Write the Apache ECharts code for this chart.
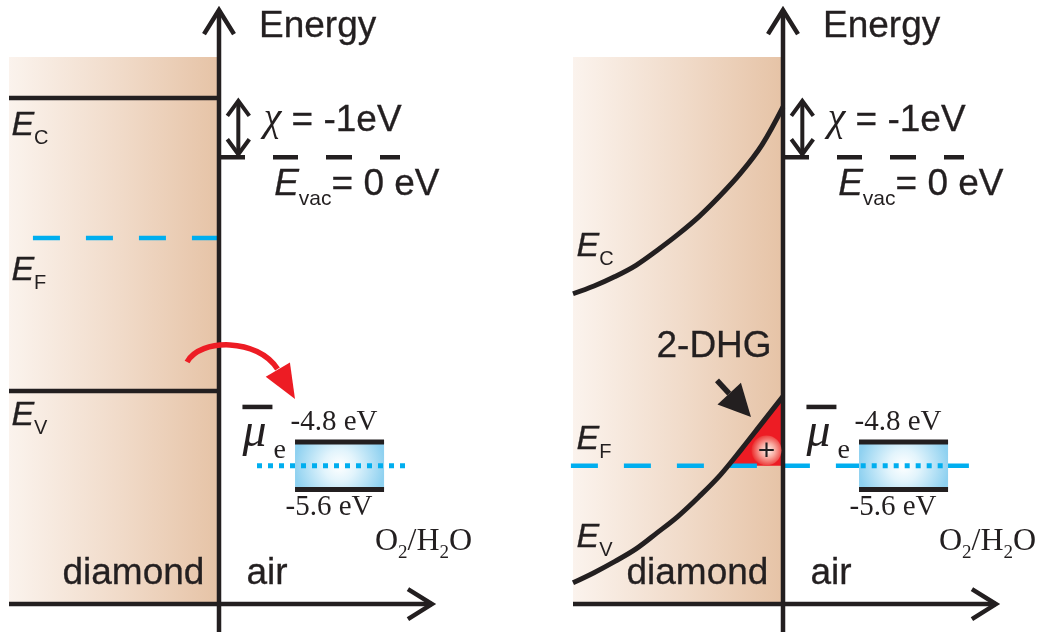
<!DOCTYPE html>
<html>
<head>
<meta charset="utf-8">
<title>Diamond / air band alignment</title>
<script src="https://cdn.jsdelivr.net/npm/echarts@6/dist/echarts.min.js"></script>
<style>
  html, body { margin: 0; padding: 0; background: #ffffff; }
  #chart { width: 1042px; height: 632px; }
</style>
</head>
<body>
<div id="chart"></div>
<script>
// ---------------------------------------------------------------------------
// Energies in eV (vacuum level = 0); depth in arbitrary units, surface at 0,
// diamond on the negative side, air on the positive side.
// ---------------------------------------------------------------------------
const vacuumLevel = 0;
const electronAffinity = -1;                                // chi
const conductionFlat = vacuumLevel - electronAffinity;      // E_C, flat bands
const fermiFlat = -1.36;                                    // E_F, flat bands
const valenceFlat = -3.94;                                  // E_V, flat bands
const redoxLevels = [-4.8, -5.6];                           // O2/H2O couple
const electrochemPotential = -5.2;                          // mu_e of O2/H2O
const fermiBent = electrochemPotential;                     // E_F after equilibration

// band bending towards the surface (right panel)
const depth          = [-10, -9, -8, -7, -6, -5, -4, -3, -2, -1, 0];
const conductionBent = [-2.30, -2.17, -2.01, -1.82, -1.57, -1.30, -1.00, -0.65, -0.26, 0.21, 0.85];
const valenceBent    = [-7.17, -7.00, -6.81, -6.60, -6.33, -6.05, -5.72, -5.36, -4.93, -4.48, -4.03];

// ---------------------------------------------------------------------------
// Frame of each schematic panel
// ---------------------------------------------------------------------------
const X_MIN = -10, X_MAX = 10.5, E_MIN = -8, E_MAX = 2.65;
const PANEL_LEFT = [9, 573];
const PANEL_WIDTH = 430.5;
const DIAMOND = { left: -10, right: 0, bottom: -7.53, top: 1.69 };
const AXIS_TIP = { x: 10.14, e: 2.48 };
const CHI_X = 0.92;
const VAC_END = 8.62;
const REDOX_BOX = { left: 3.62, right: 7.86 };
const FERMI_SPAN = [[-8.86, 0], [-10.1, 8.86]];
const MU_SPAN = [[1.81, 9.14], [3.70, 7.86]];
const transferArrow = [[-1.52, -3.45], [-0.905, -3.046], [1.857, -3.046], [2.786, -3.569], [3.619, -4.073]];
const holeArrow = [[-3.143, -3.761], [-1.524, -4.377]];
const holeMarker = [-0.79, -4.94];

const INK = '#231f20', CYAN = '#00aeef', RED = '#ed1c24';
const SANS = '"Liberation Sans", Arial, Helvetica, sans-serif';
const SERIF = '"Liberation Serif", "Times New Roman", serif';

// text tokens; a hairline outline in the ink colour gives a slightly heavier print look
const HEAVY = { textBorderColor: INK, textBorderWidth: 0.3 };
function tok(o) { return Object.assign({ verticalAlign: 'top', color: INK }, o); }
const rich = {
  big:     tok(Object.assign({ fontFamily: SANS, fontSize: 37, lineHeight: 37 }, HEAVY)),
  bigPad:  tok(Object.assign({ fontFamily: SANS, fontSize: 37, lineHeight: 37, padding: [2, 0, 0, 0] }, HEAVY)),
  chi:     tok({ fontFamily: SERIF, fontStyle: 'italic', fontSize: 40, lineHeight: 40 }),
  eI:      tok(Object.assign({ fontFamily: SANS, fontStyle: 'italic', fontSize: 37, lineHeight: 37 }, HEAVY)),
  vac:     tok({ fontFamily: SANS, fontSize: 21, lineHeight: 21, padding: [22, 0, 0, 0] }),
  bandE:   tok(Object.assign({ fontFamily: SANS, fontStyle: 'italic', fontSize: 34, lineHeight: 34 }, HEAVY)),
  bandSub: tok({ fontFamily: SANS, fontSize: 20, lineHeight: 20, padding: [20, 0, 0, 0] }),
  bar:     { width: 30, height: 4.5, lineHeight: 4.5, verticalAlign: 'top', backgroundColor: INK },
  mu:      tok({ fontFamily: SERIF, fontStyle: 'italic', fontSize: 48, lineHeight: 46 }),
  muSub:   tok({ fontFamily: SERIF, fontSize: 28, lineHeight: 28, padding: [27, 0, 0, 7] }),
  lvl:     tok({ fontFamily: SERIF, fontSize: 29, lineHeight: 29 }),
  mol:     tok({ fontFamily: SERIF, fontSize: 32, lineHeight: 32 }),
  molSub:  tok({ fontFamily: SERIF, fontSize: 19, lineHeight: 19, padding: [18, 0, 0, 0] })
};

function fmt(v) { return v.toFixed(1); }

function base(gi) {
  return { xAxisIndex: gi, yAxisIndex: gi, silent: true, animation: false };
}

function line(gi, data, style, z, extra) {
  return Object.assign(base(gi), {
    type: 'line', data: data, symbol: 'none', z: z, clip: false,
    lineStyle: Object.assign({ cap: 'butt' }, style)
  }, extra || {});
}

function chevron(tip, from, len, half, width) {
  const dx = tip[0] - from[0], dy = tip[1] - from[1], d = Math.hypot(dx, dy);
  const ux = dx / d, uy = dy / d;
  const bx = tip[0] - ux * len, by = tip[1] - uy * len;
  return {
    type: 'polyline',
    shape: { points: [[bx - uy * half, by + ux * half], tip, [bx + uy * half, by - ux * half]] },
    style: { stroke: INK, lineWidth: width, fill: 'none', lineJoin: 'miter' }
  };
}

function head(tip, from, len, half, color) {
  const dx = tip[0] - from[0], dy = tip[1] - from[1], d = Math.hypot(dx, dy);
  const ux = dx / d, uy = dy / d;
  const bx = tip[0] - ux * len, by = tip[1] - uy * len;
  return {
    base: [bx, by],
    el: {
      type: 'polygon',
      shape: { points: [[bx - uy * half, by + ux * half], tip, [bx + uy * half, by - ux * half]] },
      style: { fill: color }
    }
  };
}

function diamond(gi) {
  return Object.assign(base(gi), {
    type: 'custom', z: 1,
    data: [[DIAMOND.left, DIAMOND.bottom, DIAMOND.right, DIAMOND.top]],
    renderItem: function (params, api) {
      const a = api.coord([api.value(0), api.value(3)]);
      const b = api.coord([api.value(2), api.value(1)]);
      return {
        type: 'rect',
        shape: { x: a[0], y: a[1], width: b[0] - a[0], height: b[1] - a[1] },
        style: {
          fill: new echarts.graphic.LinearGradient(0, 0, 1, 0, [
            { offset: 0, color: '#fbf3ed' },
            { offset: 0.5, color: '#f1dccb' },
            { offset: 1, color: '#e6c3a6' }
          ])
        }
      };
    }
  });
}

function axes(gi) {
  return Object.assign(base(gi), {
    type: 'custom', z: 6,
    data: [[0, E_MIN, 0, AXIS_TIP.e], [DIAMOND.left, DIAMOND.bottom, AXIS_TIP.x, DIAMOND.bottom]],
    renderItem: function (params, api) {
      const a = api.coord([api.value(0), api.value(1)]);
      const b = api.coord([api.value(2), api.value(3)]);
      return {
        type: 'group',
        children: [
          { type: 'line', shape: { x1: a[0], y1: a[1], x2: b[0], y2: b[1] }, style: { stroke: INK, lineWidth: 4.5 } },
          chevron(b, a, 24, 15, 4.5)
        ]
      };
    }
  });
}

function chiArrow(gi) {
  return Object.assign(base(gi), {
    type: 'custom', z: 6,
    data: [[CHI_X, vacuumLevel, CHI_X, vacuumLevel - electronAffinity]],
    renderItem: function (params, api) {
      const lo = api.coord([api.value(0), api.value(1)]);
      const hi = api.coord([api.value(2), api.value(3)]);
      const a = [lo[0], lo[1] - 3], b = [hi[0], hi[1] + 3];
      return {
        type: 'group',
        children: [
          { type: 'line', shape: { x1: a[0], y1: a[1], x2: b[0], y2: b[1] }, style: { stroke: INK, lineWidth: 4 } },
          chevron(b, a, 15, 11, 4),
          chevron(a, b, 15, 11, 4)
        ]
      };
    }
  });
}

function redoxBox(gi) {
  return Object.assign(base(gi), {
    type: 'custom', z: 4,
    data: [[REDOX_BOX.left, redoxLevels[1], REDOX_BOX.right, redoxLevels[0]]],
    renderItem: function (params, api) {
      const a = api.coord([api.value(0), api.value(3)]);
      const b = api.coord([api.value(2), api.value(1)]);
      return {
        type: 'group',
        children: [
          {
            type: 'rect',
            shape: { x: a[0], y: a[1], width: b[0] - a[0], height: b[1] - a[1] },
            style: {
              fill: new echarts.graphic.RadialGradient(0.5, 0.5, 0.95, [
                { offset: 0, color: '#ffffff' },
                { offset: 0.35, color: '#e2f4fc' },
                { offset: 1, color: '#8fd1f0' }
              ])
            }
          },
          { type: 'line', shape: { x1: a[0], y1: a[1], x2: b[0], y2: a[1] }, style: { stroke: INK, lineWidth: 5 } },
          { type: 'line', shape: { x1: a[0], y1: b[1], x2: b[0], y2: b[1] }, style: { stroke: INK, lineWidth: 5 } }
        ]
      };
    }
  });
}

function notes(gi, items) {
  return Object.assign(base(gi), {
    type: 'scatter', z: 9, symbolSize: 1, clip: false,
    itemStyle: { color: 'rgba(0,0,0,0)', opacity: 1 },
    data: items.map(function (it) {
      return {
        value: [it.x, it.e],
        label: {
          show: true, position: [0, 0], align: it.align || 'left', verticalAlign: 'top',
          color: INK, opacity: 1, formatter: it.text, rich: rich
        }
      };
    })
  });
}

// annotations shared by both panels
function sharedNotes() {
  return [
    { x: 1.93, e: 2.50, text: '{big|Energy}' },
    { x: 2.15, e: 0.957, text: '{chi|χ}{bigPad| = ' + electronAffinity + 'eV}' },
    { x: 2.65, e: -0.16, text: '{eI|E}{vac|vac}{big|= ' + vacuumLevel + ' eV}' },
    { x: 1.14, e: -4.178, text: '{bar|}\n{mu|μ}{muSub|e}' },
    { x: 5.50, e: -4.24, align: 'center', text: '{lvl|' + fmt(redoxLevels[0]) + ' eV}' },
    { x: 5.26, e: -5.67, align: 'center', text: '{lvl|' + fmt(redoxLevels[1]) + ' eV}' },
    { x: 7.45, e: -6.21, text: '{mol|O}{molSub|2}{mol|/H}{molSub|2}{mol|O}' },
    { x: -7.43, e: -6.71, text: '{big|diamond}' },
    { x: 1.33, e: -6.71, text: '{big|air}' }
  ];
}

const series = [];

// ---- left panel: flat bands before contact ----
series.push(diamond(0));
series.push(line(0, [[FERMI_SPAN[0][0], fermiFlat], [FERMI_SPAN[0][1], fermiFlat]],
  { color: CYAN, width: 4.5, type: [27, 26] }, 3));
series.push(line(0, [[DIAMOND.left, conductionFlat], [0, conductionFlat]], { color: INK, width: 4.5 }, 4));
series.push(line(0, [[DIAMOND.left, valenceFlat], [0, valenceFlat]], { color: INK, width: 4.5 }, 4));
series.push(line(0, [[0, vacuumLevel], [VAC_END, vacuumLevel]],
  { color: INK, width: 4.5, type: [26, 28, 25, 28, 26, 28, 20, 80] }, 4));
series.push(chiArrow(0));
series.push(redoxBox(0));
series.push(line(0, [[MU_SPAN[0][0], electrochemPotential], [MU_SPAN[0][1], electrochemPotential]],
  { color: CYAN, width: 5, type: [5, 6] }, 5));
series.push(axes(0));
series.push(Object.assign(base(0), {
  type: 'custom', z: 7,
  data: [[0, 0]],
  renderItem: function (params, api) {
    const p = transferArrow.map(function (q) { return api.coord(q); });
    const h = head(p[4], p[3], 34, 14, RED);
    return {
      type: 'group',
      children: [
        {
          type: 'bezierCurve',
          shape: { x1: p[0][0], y1: p[0][1], cpx1: p[1][0], cpy1: p[1][1], cpx2: p[2][0], cpy2: p[2][1], x2: p[3][0], y2: p[3][1] },
          style: { stroke: RED, lineWidth: 5.5, fill: 'none' }
        },
        h.el
      ]
    };
  }
}));
series.push(notes(0, sharedNotes().concat([
  { x: -9.86, e: 0.81, text: '{bandE|E}{bandSub|C}' },
  { x: -9.86, e: -1.633, text: '{bandE|E}{bandSub|F}' },
  { x: -9.86, e: -4.077, text: '{bandE|E}{bandSub|V}' }
])));

// ---- right panel: equilibrium with the O2/H2O couple ----
series.push(diamond(1));
series.push(Object.assign(base(1), {
  type: 'custom', z: 2,
  data: [[0, fermiBent]],
  renderItem: function (params, api) {
    const pts = [];
    for (let i = 0; i < depth.length; i++) {
      if (valenceBent[i] >= fermiBent) {
        if (!pts.length && i > 0) {
          const t = (fermiBent - valenceBent[i - 1]) / (valenceBent[i] - valenceBent[i - 1]);
          pts.push(api.coord([depth[i - 1] + t * (depth[i] - depth[i - 1]), fermiBent]));
        }
        pts.push(api.coord([depth[i], valenceBent[i]]));
      }
    }
    pts.push(api.coord([0, fermiBent]));
    return { type: 'polygon', shape: { points: pts }, style: { fill: RED } };
  }
}));
series.push(line(1, [[FERMI_SPAN[1][0], fermiBent], [FERMI_SPAN[1][1], fermiBent]],
  { color: CYAN, width: 4.5, type: [27, 26] }, 3));
series.push(line(1, depth.map(function (x, i) { return [x, conductionBent[i]]; }),
  { color: INK, width: 5 }, 4, { smooth: 0.35 }));
series.push(line(1, depth.map(function (x, i) { return [x, valenceBent[i]]; }),
  { color: INK, width: 5 }, 4, { smooth: 0.35 }));
series.push(line(1, [[0, vacuumLevel], [VAC_END, vacuumLevel]],
  { color: INK, width: 4.5, type: [26, 28, 25, 28, 26, 28, 20, 80] }, 4));
series.push(chiArrow(1));
series.push(redoxBox(1));
series.push(line(1, [[MU_SPAN[1][0], electrochemPotential], [MU_SPAN[1][1], electrochemPotential]],
  { color: CYAN, width: 5, type: [5, 6] }, 5));
series.push(axes(1));
series.push(Object.assign(base(1), {
  type: 'custom', z: 7,
  data: [[0, 0]],
  renderItem: function (params, api) {
    const s = api.coord(holeArrow[0]);
    const t = api.coord(holeArrow[1]);
    const h = head(t, s, 32, 16, INK);
    const c = api.coord(holeMarker);
    return {
      type: 'group',
      children: [
        { type: 'line', shape: { x1: s[0], y1: s[1], x2: h.base[0], y2: h.base[1] }, style: { stroke: INK, lineWidth: 5.5 } },
        h.el,
        {
          type: 'circle', shape: { cx: c[0], cy: c[1], r: 15 },
          style: {
            fill: new echarts.graphic.RadialGradient(0.55, 0.5, 0.55, [
              { offset: 0, color: '#fff3ef' },
              { offset: 0.45, color: '#f8aaa0' },
              { offset: 1, color: '#ec2b2b' }
            ])
          }
        },
        {
          type: 'text',
          style: { text: '+', x: c[0], y: c[1] + 1, align: 'center', verticalAlign: 'middle', font: '30px ' + SANS, fill: INK }
        }
      ]
    };
  }
}));
series.push(notes(1, sharedNotes().concat([
  { x: -9.81, e: -1.23, text: '{bandE|E}{bandSub|C}' },
  { x: -9.81, e: -4.48, text: '{bandE|E}{bandSub|F}' },
  { x: -9.81, e: -6.13, text: '{bandE|E}{bandSub|V}' },
  { x: -6.0, e: -2.89, text: '{big|2-DHG}' }
])));

const chart = echarts.init(document.getElementById('chart'), null, { renderer: 'canvas' });
chart.setOption({
  animation: false,
  backgroundColor: '#ffffff',
  grid: [0, 1].map(function (i) { return { left: PANEL_LEFT[i], top: 0, width: PANEL_WIDTH, height: 632 }; }),
  xAxis: [0, 1].map(function (i) { return { gridIndex: i, type: 'value', min: X_MIN, max: X_MAX, show: false }; }),
  yAxis: [0, 1].map(function (i) { return { gridIndex: i, type: 'value', min: E_MIN, max: E_MAX, show: false }; }),
  series: series
});
</script>
</body>
</html>
